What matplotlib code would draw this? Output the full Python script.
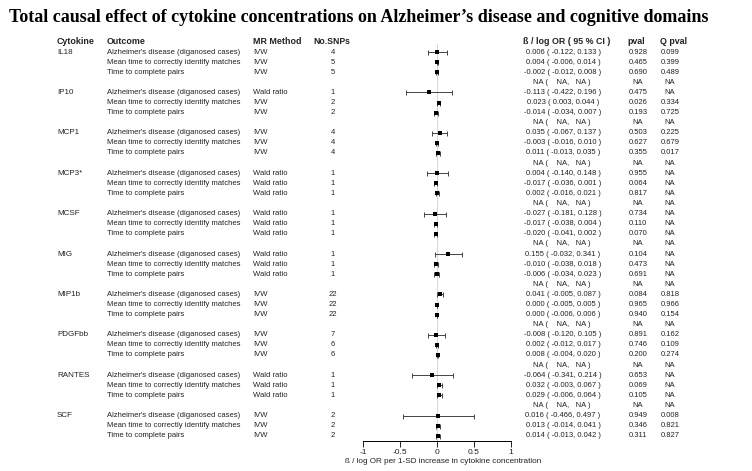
import numpy as np
import matplotlib
matplotlib.use("Agg")
import matplotlib.pyplot as plt
from matplotlib.transforms import blended_transform_factory

plt.rcParams['font.family'] = ['Liberation Sans', 'DejaVu Sans']

cytokines = ['IL18', 'IP10', 'MCP1', 'MCP3*', 'MCSF', 'MIG', 'MIP1b', 'PDGFbb', 'RANTES', 'SCF']
outcomes = ["Alzheimer's disease (diganosed cases)",
            'Mean time to correctly identify matches',
            'Time to complete pairs']

methods = [['IVW', 'IVW', 'IVW'],
           ['Wald ratio', 'IVW', 'IVW'],
           ['IVW', 'IVW', 'IVW'],
           ['Wald ratio', 'Wald ratio', 'Wald ratio'],
           ['Wald ratio', 'Wald ratio', 'Wald ratio'],
           ['Wald ratio', 'Wald ratio', 'Wald ratio'],
           ['IVW', 'IVW', 'IVW'],
           ['IVW', 'IVW', 'IVW'],
           ['Wald ratio', 'Wald ratio', 'Wald ratio'],
           ['IVW', 'IVW', 'IVW']]
n_snps = [[4, 5, 5], [1, 2, 2], [4, 4, 4], [1, 1, 1], [1, 1, 1],
          [1, 1, 1], [22, 22, 22], [7, 6, 6], [1, 1, 1], [2, 2, 2]]

beta = [[0.006, 0.004, -0.002], [-0.113, 0.023, -0.014], [0.035, -0.003, 0.011],
        [0.004, -0.017, 0.002], [-0.027, -0.017, -0.020], [0.155, -0.010, -0.006],
        [0.041, 0.000, 0.000], [-0.008, 0.002, 0.008], [-0.064, 0.032, 0.029],
        [0.016, 0.013, 0.014]]
ci_low = [[-0.122, -0.006, -0.012], [-0.422, 0.003, -0.034], [-0.067, -0.016, -0.013],
          [-0.140, -0.036, -0.016], [-0.181, -0.038, -0.041], [-0.032, -0.038, -0.034],
          [-0.005, -0.005, -0.006], [-0.120, -0.012, -0.004], [-0.341, -0.003, -0.006],
          [-0.466, -0.014, -0.013]]
ci_high = [[0.133, 0.014, 0.008], [0.196, 0.044, 0.007], [0.137, 0.010, 0.035],
           [0.148, 0.001, 0.021], [0.128, 0.004, 0.002], [0.341, 0.018, 0.023],
           [0.087, 0.005, 0.006], [0.105, 0.017, 0.020], [0.214, 0.067, 0.064],
           [0.497, 0.041, 0.042]]
pval = [[0.928, 0.465, 0.690], [0.475, 0.026, 0.193], [0.503, 0.627, 0.355],
        [0.955, 0.064, 0.817], [0.734, 0.110, 0.070], [0.104, 0.473, 0.691],
        [0.084, 0.965, 0.940], [0.891, 0.746, 0.200], [0.653, 0.069, 0.105],
        [0.949, 0.346, 0.311]]
q_pval = [[0.099, 0.399, 0.489], [None, 0.334, 0.725], [0.225, 0.679, 0.017],
          [None, None, None], [None, None, None], [None, None, None],
          [0.818, 0.966, 0.154], [0.162, 0.109, 0.274], [None, None, None],
          [0.008, 0.821, 0.827]]

W, H = 752, 471
fig = plt.figure(figsize=(W / 100, H / 100), dpi=100)

# forest panel: x from -1 (363px) to 1 (511px), axis line at 441px
top_px, bot_px = 44, 441
ax = fig.add_axes([363 / W, (H - bot_px) / H, (511 - 363) / W, (bot_px - top_px) / H])
row_px = 10.1
first_row_px = 52
ax.set_ylim((bot_px - first_row_px) / row_px, (top_px - first_row_px) / row_px)
ax.set_xlim(-1, 1)
for s in ['top', 'right', 'left']:
    ax.spines[s].set_visible(False)
ax.spines['bottom'].set_linewidth(0.7)
ax.set_yticks([])
ax.set_xticks([-1, -0.5, 0, 0.5, 1])
ax.set_xticklabels(['-1', '-0.5', '0', '0.5', '1'])
ax.tick_params(axis='x', length=4, width=0.7, labelsize=6, pad=2, colors='#222')
ax.set_xlabel('ß / log OR per 1-SD increase in cytokine concentration', fontsize=5.9,
              labelpad=1, color='#222')
ax.xaxis.label.set_x(0.54)
ax.axvline(0, color='#d0d0d0', lw=0.6, zorder=0)

tr = blended_transform_factory(fig.transFigure, ax.transData)
fs = 5.5
hfs = 6.4
col = '#222'

def put(xpx, y, s, **kw):
    kw.setdefault('ha', 'left')
    kw.setdefault('fontsize', fs)
    kw.setdefault('color', col)
    ax.text(xpx / W, y, s, transform=tr, va='center', clip_on=False, **kw)

# headers
hy = -1
put(57, hy, 'Cytokine', fontweight='bold', fontsize=hfs)
put(107, hy, 'Outcome', fontweight='bold', fontsize=hfs)
put(253, hy, 'MR Method', fontweight='bold', fontsize=hfs)
put(313, hy, 'No.SNPs', fontweight='bold', fontsize=hfs - 0.2)
put(567, hy, 'ß / log OR ( 95 % CI )', fontweight='bold', fontsize=hfs, ha='center')
put(636, hy, 'pval', fontweight='bold', fontsize=hfs, ha='center')
put(673, hy, 'Q pval', fontweight='bold', fontsize=hfs, ha='center')

for g, name in enumerate(cytokines):
    base = g * 4
    put(57, base, name, fontsize=5.8)
    for k in range(3):
        y = base + k
        b, lo, hi = beta[g][k], ci_low[g][k], ci_high[g][k]
        ax.errorbar(b, y, xerr=[[b - lo], [hi - b]], fmt='none', ecolor='#444',
                    elinewidth=0.7, capsize=1.8, capthick=0.7)
        ax.plot(b, y, 's', color='black', ms=2.3, mew=0)
        put(107, y, outcomes[k])
        put(253, y, methods[g][k])
        put(333, y, str(n_snps[g][k]), ha='center')
        put(563, y, f'{b:.3f} ( {lo:.3f}, {hi:.3f} )', ha='center')
        put(638, y, f'{pval[g][k]:.3f}', ha='center')
        q = q_pval[g][k]
        put(670, y, 'NA' if q is None else f'{q:.3f}', ha='center')
    if g < len(cytokines) - 1:
        y = base + 3
        put(562, y, 'NA (    NA,   NA )', ha='center')
        put(638, y, 'NA', ha='center')
        put(670, y, 'NA', ha='center')

fig.text(9 / W, 1 - 18 / H, 'Total causal effect of cytokine concentrations on Alzheimer\u2019s disease and cognitive domains',
         fontsize=13, fontweight='bold', family='Liberation Serif', ha='left', va='center')

fig.savefig('out.png', dpi=100)
